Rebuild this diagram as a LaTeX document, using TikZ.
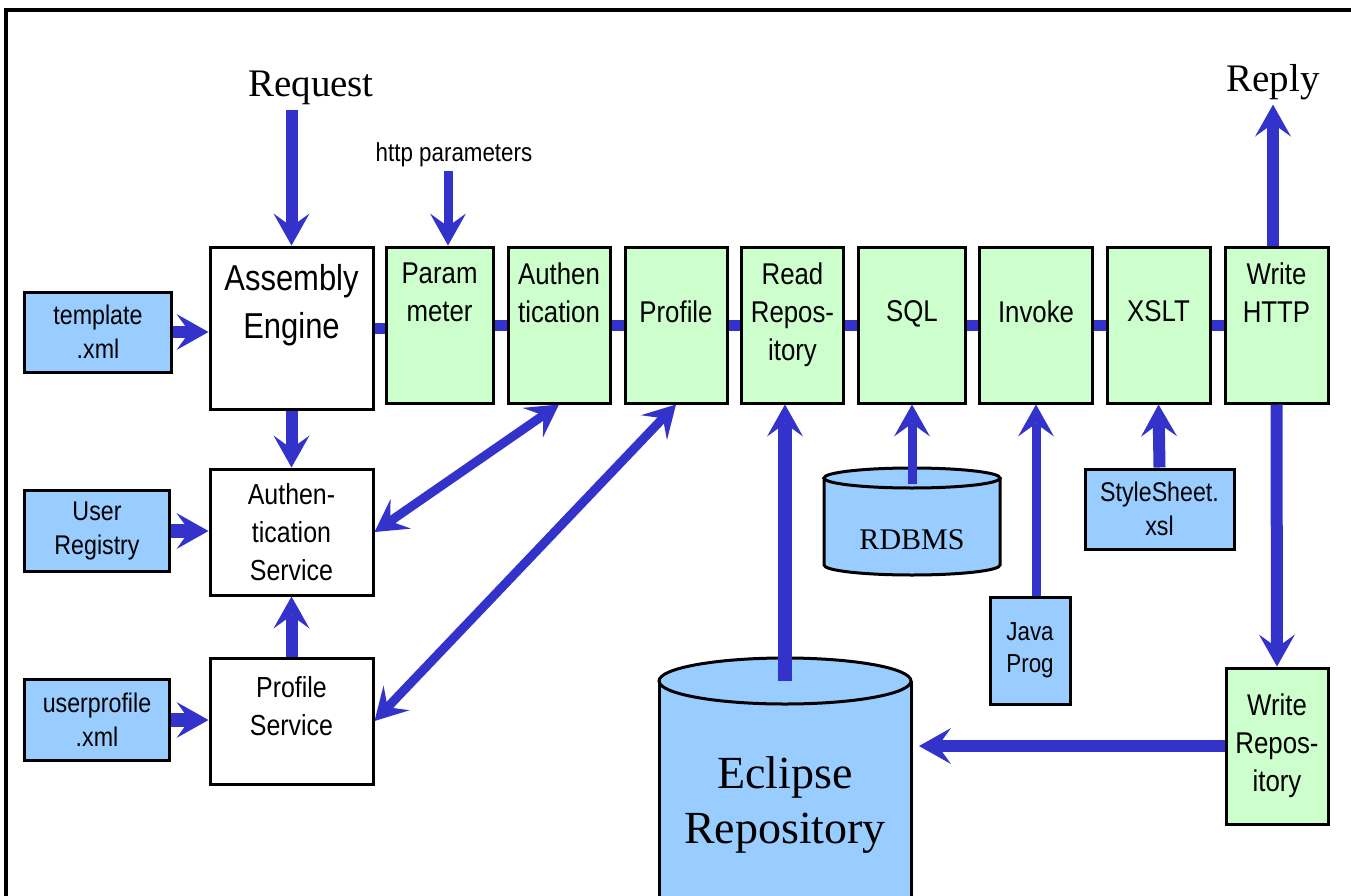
\documentclass[tikz,border=0pt]{standalone}
\usepackage{fontspec}
\setmainfont{Liberation Serif}
\newfontfamily\narrowsans[FakeStretch=0.86]{Liberation Sans}
\usetikzlibrary{arrows.meta,positioning}

\definecolor{flowblue}{HTML}{3333CC}
\definecolor{storeblue}{HTML}{99CCFF}
\definecolor{stagegreen}{HTML}{CCFFCC}

\tikzset{
  box/.style={draw, line width=3pt, rectangle, inner sep=0pt, align=center},
  stagebox/.style={box, fill=stagegreen, minimum height=156pt},
  filebox/.style={box, fill=storeblue, font=\narrowsans\fontsize{27}{34}\selectfont},
  svcbox/.style={box, fill=white, minimum width=163pt},
  dbarea/.style={rectangle, inner sep=0pt, outer sep=0pt},
  dbline/.style={draw, line width=3pt},
  stagetext/.style={inner sep=0pt, align=center, font=\narrowsans\fontsize{30}{38}\selectfont},
  svctext/.style={inner sep=0pt, align=center, font=\narrowsans\fontsize{29}{38}\selectfont},
  bigtext/.style={inner sep=4pt, font=\fontsize{39}{46}\selectfont},
  dbtext/.style={inner sep=0pt, align=center, font=\fontsize{30}{36}\selectfont},
  tip/.style={-{Stealth[length=32pt,width=36pt,inset=13pt,line width=0pt]}},
  flow/.style={draw=flowblue, line width=12pt, tip},
  thinflow/.style={draw=flowblue, line width=9pt, tip},
  bigflow/.style={draw=flowblue, line width=14pt, tip},
  twoway/.style={draw=flowblue, line width=9pt,
    {Stealth[length=32pt,width=36pt,inset=13pt,line width=0pt]}-{Stealth[length=32pt,width=36pt,inset=13pt,line width=0pt]}},
  bar/.style={draw=flowblue, line width=11pt}
}

\begin{document}
\begin{tikzpicture}[x=1pt,y=-1pt]
  \useasboundingbox (0,0) rectangle (1351,896);
  \clip (0,0) rectangle (1351,896);
  \fill[white] (0,0) rectangle (1351,896);
  % frame
  \draw[line width=4.5pt] (6,910) -- (6,10) -- (1370,10);

  % labels on top
  \node[bigtext, anchor=base] (request) at (311,97) {Request};
  \node[inner sep=3pt, anchor=base, font=\narrowsans\fontsize{26}{30}\selectfont] (http) at (454,162) {http parameters};
  \node[bigtext, anchor=base] (reply) at (1273,92) {Reply};

  % engine and services
  \node[svcbox, minimum height=162pt] (assembly) at (291.5,328) {};
  \node[stagetext, font=\narrowsans\fontsize{36}{48}\selectfont, below=19pt of assembly.north] (assembly-t) {Assembly\\Engine};
  \node[svcbox, minimum height=126pt, font=\narrowsans\fontsize{29}{38}\selectfont] (authsvc) at (291.5,532) {Authen-\\tication\\Service};
  \node[svcbox, minimum height=126pt] (profsvc) at (291.5,721) {};
  \node[svctext, below=20pt of profsvc.north] (profsvc-t) {Profile\\Service};

  % input files
  \node[filebox, minimum width=147pt, minimum height=80pt] (template) at (98,332) {template\\.xml};
  \node[filebox, minimum width=145pt, minimum height=81pt] (userreg) at (97,531) {User\\Registry};
  \node[filebox, minimum width=145pt, minimum height=81pt] (userprof) at (97,720) {userprofile\\.xml};

  % pipeline stages
  \node[stagebox, minimum width=107pt] (param) at (439.5,325) {};
  \node[stagetext, below=17pt of param.north] (param-t) {Param\\meter};
  \node[stagebox, minimum width=102pt] (authen) at (559,325) {};
  \node[stagetext, below=17pt of authen.north] (authen-t) {Authen\\tication};
  \node[stagebox, minimum width=102pt] (profile) at (676,325) {};
  \node[stagetext, below=55pt of profile.north] (profile-t) {Profile};
  \node[stagebox, minimum width=102pt] (readrepo) at (792.5,325) {};
  \node[stagetext, below=17pt of readrepo.north] (readrepo-t) {Read\\Repos-\\itory};
  \node[stagebox, minimum width=107pt] (sql) at (912,325) {};
  \node[stagetext, below=55pt of sql.north] (sql-t) {SQL};
  \node[stagebox, minimum width=113pt] (invoke) at (1036,325) {};
  \node[stagetext, below=55pt of invoke.north] (invoke-t) {Invoke};
  \node[stagebox, minimum width=103pt] (xslt) at (1158.5,325) {};
  \node[stagetext, below=55pt of xslt.north] (xslt-t) {XSLT};
  \node[stagebox, minimum width=103pt] (writehttp) at (1276.5,325) {};
  \node[stagetext, below=17pt of writehttp.north] (writehttp-t) {Write\\HTTP};
  \node[stagebox, minimum width=102pt, font=\narrowsans\fontsize{30}{38}\selectfont] (writerepo) at (1277,746) {Write\\Repos-\\itory};

  % resources
  \node[filebox, minimum width=149pt, minimum height=80pt] (stylesheet) at (1159.5,509) {StyleSheet.\\xsl};
  \node[filebox, minimum width=80pt, minimum height=107pt, font=\narrowsans\fontsize{26}{32}\selectfont] (javaprog) at (1030,650.5) {Java\\Prog};

  % RDBMS can
  \node[dbarea, minimum width=176pt, minimum height=108pt] (rdbms) at (912,521) {};
  \fill[storeblue] (824,478) -- (824,565) arc[start angle=180, end angle=0, x radius=88, y radius=10]
    -- (1000,478) arc[start angle=0, end angle=-180, x radius=88, y radius=10] -- cycle;
  \draw[dbline] (912,478) ellipse[x radius=88, y radius=10];
  \draw[dbline] (824,478) -- (824,565) arc[start angle=180, end angle=0, x radius=88, y radius=10] -- (1000,478);
  \node[dbtext, below=62pt of rdbms.north] (rdbms-t) {RDBMS};

  % Eclipse repository can
  \node[dbarea, minimum width=252pt, minimum height=302pt] (eclipse) at (785,809) {};
  \fill[storeblue] (659,681) -- (659,960) -- (911,960) -- (911,681)
    arc[start angle=0, end angle=-180, x radius=126, y radius=23] -- cycle;
  \draw[dbline] (785,681) ellipse[x radius=126, y radius=23];
  \draw[dbline] (659,681) -- (659,960) (911,681) -- (911,960);
  \node[dbtext, font=\fontsize{46}{55}\selectfont, below=98pt of eclipse.north] (eclipse-t) {Eclipse\\Repository};

  % connectors
  \draw[flow] (assembly.north |- request.south) -- (assembly.north);
  \draw[thinflow] ([xshift=-6pt]http.south) -- ([xshift=-6pt]http.south |- param.north);
  \draw[flow] (reply.south |- writehttp.north) -- (reply.south);
  \draw[flow] (template.east) -- (template.east -| assembly.west);
  \draw[bar] (assembly.east) -- (assembly.east -| param.west);
  \draw[bar] (param.east) -- (authen.west);
  \draw[bar] (authen.east) -- (profile.west);
  \draw[bar] (profile.east) -- (readrepo.west);
  \draw[bar] (readrepo.east) -- (sql.west);
  \draw[bar] (sql.east) -- (invoke.west);
  \draw[bar] (invoke.east) -- (xslt.west);
  \draw[bar] (xslt.east) -- (writehttp.west);
  \draw[flow] (assembly.south) -- (authsvc.north);
  \draw[bigflow] (userreg.east) -- (userreg.east -| authsvc.west);
  \draw[bigflow] (userprof.east) -- (userprof.east -| profsvc.west);
  \draw[flow] (profsvc.north) -- (authsvc.south);
  \draw[twoway] (authsvc.east) -- (authen.south);
  \draw[twoway] (profsvc.east) -- (profile.south);
  \draw[bigflow] ([yshift=-23pt]eclipse.north) -- (eclipse.north |- readrepo.south);
  \draw[thinflow] ([yshift=-17pt]rdbms.north) -- (sql.south);
  \draw[thinflow] (invoke.south |- javaprog.north) -- (invoke.south);
  \draw[flow] (stylesheet.north) -- (xslt.south);
  \draw[flow] (writehttp.south) -- (writerepo.north);
  \draw[flow] (writerepo.west) -- ([xshift=8pt]writerepo.west -| eclipse.east);
\end{tikzpicture}
\end{document}
